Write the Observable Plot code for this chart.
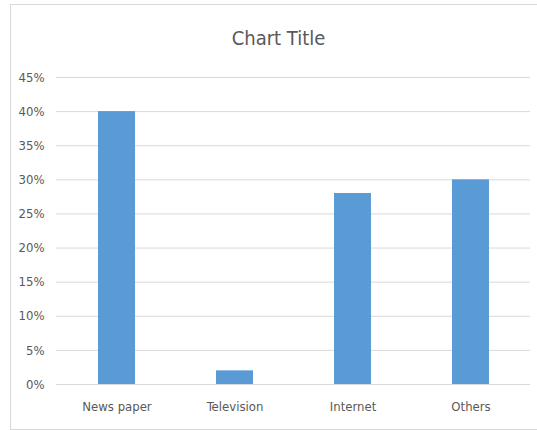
<!DOCTYPE html>
<html>
<head>
<meta charset="utf-8">
<script src="https://cdn.jsdelivr.net/npm/d3@7"></script>
<script src="https://cdn.jsdelivr.net/npm/@observablehq/plot@0.6"></script>
<style>
  html, body { margin: 0; padding: 0; background: #fff; }
  body { width: 537px; height: 430px; position: relative; overflow: hidden;
         font-family: "DejaVu Sans Condensed", "Liberation Sans Narrow", Roboto, sans-serif; }
  #frame { position: absolute; left: 10px; top: 4px; width: 540px; height: 426px;
           box-sizing: border-box; border: 1px solid #d9d9d9; }
  #title { position: absolute; left: 20px; top: 28px; width: 517px; text-align: center;
           font-size: 20px; color: #595959; line-height: 1; z-index: 2; }
  #chart { position: absolute; left: 0; top: 0; }
</style>
</head>
<body>
<div id="frame"></div>
<div id="title">Chart Title</div>
<div id="chart"></div>
<script>
const categories = ["News paper", "Television", "Internet", "Others"];
const shares = [0.40, 0.02, 0.28, 0.30];
const yTickValues = [0, 0.05, 0.10, 0.15, 0.20, 0.25, 0.30, 0.35, 0.40, 0.45];

const data = categories.map((c, i) => ({category: c, share: shares[i]}));

const chart = Plot.plot({
  width: 537,
  height: 430,
  marginTop: 77,
  marginBottom: 46,
  marginLeft: 56,
  marginRight: 7,
  style: {
    fontFamily: '"DejaVu Sans Condensed", "Liberation Sans Narrow", Roboto, sans-serif',
    fontSize: "13px",
    color: "#595959",
    background: "transparent"
  },
  x: {
    domain: categories,
    paddingInner: 0.688,
    paddingOuter: 0.344,
    label: null
  },
  y: {
    domain: [0, 0.45],
    label: null
  },
  marks: [
    Plot.gridY(yTickValues, {stroke: "#d9d9d9", strokeOpacity: 1, strokeWidth: 1}),
    Plot.barY(data, {x: "category", y: "share", fill: "#5b9bd5"}),
    Plot.axisY(yTickValues, {tickSize: 0, tickPadding: 12, tickFormat: d3.format(".0%"), label: null, fill: "#595959"}),
    Plot.axisX({tickSize: 0, tickPadding: 17, label: null, fill: "#595959"})
  ]
});
document.getElementById("chart").appendChild(chart);
</script>
</body>
</html>
